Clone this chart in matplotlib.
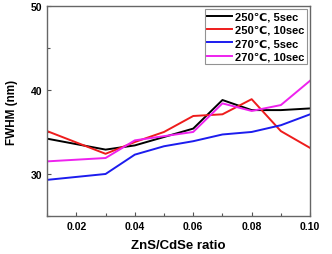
import matplotlib
matplotlib.use('Agg')
import matplotlib.pyplot as plt
from matplotlib.ticker import MultipleLocator

plt.rcParams['font.family'] = ['Liberation Sans', 'DejaVu Sans']
plt.rcParams['font.weight'] = 'bold'

# ZnS/CdSe ratio and FWHM (nm)
ratio = [0.01, 0.03, 0.04, 0.05, 0.06, 0.07, 0.08, 0.09, 0.10]
fwhm_250_5 = [34.2, 32.9, 33.4, 34.4, 35.4, 38.8, 37.6, 37.6, 37.8]
fwhm_250_10 = [35.1, 32.4, 33.8, 35.0, 36.9, 37.1, 38.9, 35.1, 33.1]
fwhm_270_5 = [29.3, 30.0, 32.3, 33.3, 33.9, 34.7, 35.0, 35.8, 37.1]
fwhm_270_10 = [31.5, 31.9, 34.0, 34.5, 35.0, 38.4, 37.5, 38.2, 41.1]

labels = ['250\u2103, 5sec', '250\u2103, 10sec', '270\u2103, 5sec', '270\u2103, 10sec']
colors = ['black', '#ee1c1c', '#1c1cee', '#ee22ee']

fig = plt.figure(figsize=(3.32, 2.55), dpi=100)
ax = fig.add_axes([0.142, 0.149, 0.792, 0.824])

for ys, lab, c in zip([fwhm_250_5, fwhm_250_10, fwhm_270_5, fwhm_270_10], labels, colors):
    ax.plot(ratio, ys, '-', color=c, lw=1.4, label=lab)

ax.set_xlim(0.01, 0.10)
ax.set_ylim(25, 50)
ax.xaxis.set_major_locator(MultipleLocator(0.02))
ax.xaxis.set_minor_locator(MultipleLocator(0.01))
ax.yaxis.set_major_locator(MultipleLocator(10))
ax.yaxis.set_minor_locator(MultipleLocator(5))
ax.xaxis.set_major_formatter(plt.FormatStrFormatter('%.2f'))
ax.tick_params(which='both', direction='in', top=False, right=False,
               labelsize=7.5, color='#555555', width=0.8)
ax.tick_params(which='major', length=3)
ax.tick_params(which='minor', length=2.5)
for s in ax.spines.values():
    s.set_color('#666666')
    s.set_linewidth(1.0)

ax.set_xlabel('ZnS/CdSe ratio', fontsize=9.5, fontweight='bold', labelpad=6)
ax.set_ylabel('FWHM (nm)', fontsize=8.5, fontweight='bold', labelpad=9)

leg = ax.legend(loc='upper right', fontsize=8, frameon=True, fancybox=False,
                handlelength=2.2, handletextpad=0.3, borderpad=0.25,
                labelspacing=0.3, borderaxespad=0.25)
leg.get_frame().set_edgecolor('#777777')
leg.get_frame().set_linewidth(0.8)

fig.savefig('out.png', dpi=100)
